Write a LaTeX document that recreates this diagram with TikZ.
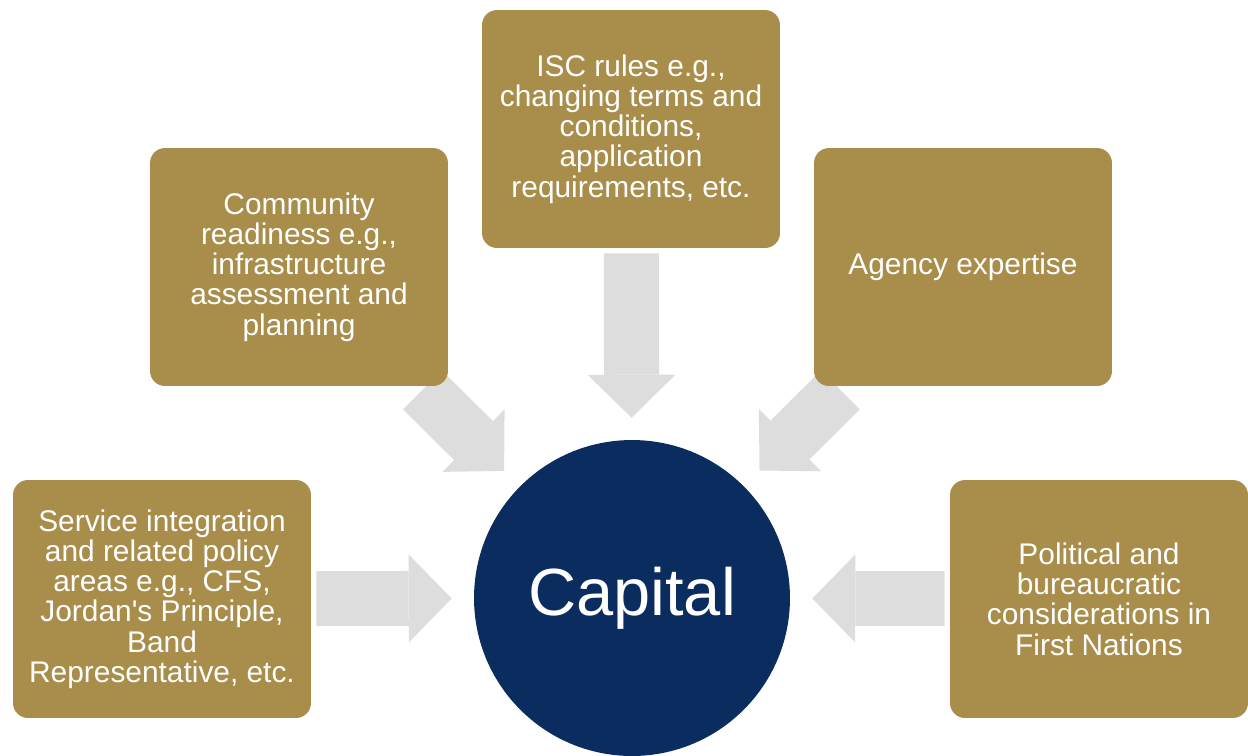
\documentclass[tikz,border=0pt]{standalone}
\usepackage{fontspec}
\setmainfont{Liberation Sans}
\usetikzlibrary{arrows.meta,backgrounds}
\definecolor{capgold}{HTML}{A88D4B}
\definecolor{capnavy}{HTML}{0B2C5E}
\definecolor{flowgray}{HTML}{DDDDDD}

\begin{document}
\begin{tikzpicture}[
  x=0.02cm, y=-0.02cm,
  box/.style={fill=capgold, rounded corners=0.3cm, minimum width=5.96cm,
    minimum height=4.76cm, text=white, align=center,
    font=\fontsize{17}{17.2}\selectfont},
  hub/.style={circle, fill=capnavy, minimum size=6.32cm, inner sep=0pt,
    text=white, font=\fontsize{38}{40}\selectfont},
  flow/.style={color=flowgray, line width=1.1cm,
    -{Triangle[length=0.86cm, width=1.76cm, line width=0pt]},
    shorten >=0.44cm, shorten <=0.1cm}
]
\useasboundingbox (0,0) rectangle (1248,755);

\node[box] (isc) at (631,129)
  {ISC rules e.g.,\\changing terms and\\conditions,\\application\\requirements, etc.};
\node[box] (comm) at (299,267)
  {Community\\readiness e.g.,\\infrastructure\\assessment and\\planning};
\node[box] (agency) at (963,267) {Agency expertise};
\node[box] (svc) at (162,599)
  {Service integration\\and related policy\\areas e.g., CFS,\\Jordan\textquotesingle s Principle,\\Band\\Representative, etc.};
\node[box] (pol) at (1099,599)
  {Political and\\bureaucratic\\considerations in\\First Nations};
\node[hub] (cap) at (632,598) {Capital};

\begin{scope}[on background layer]
\draw[flow] (isc) -- (cap);
\draw[flow] (comm) -- (cap);
\draw[flow] (agency) -- (cap);
\draw[flow] (svc) -- (cap);
\draw[flow] (pol) -- (cap);
\end{scope}

\end{tikzpicture}
\end{document}
